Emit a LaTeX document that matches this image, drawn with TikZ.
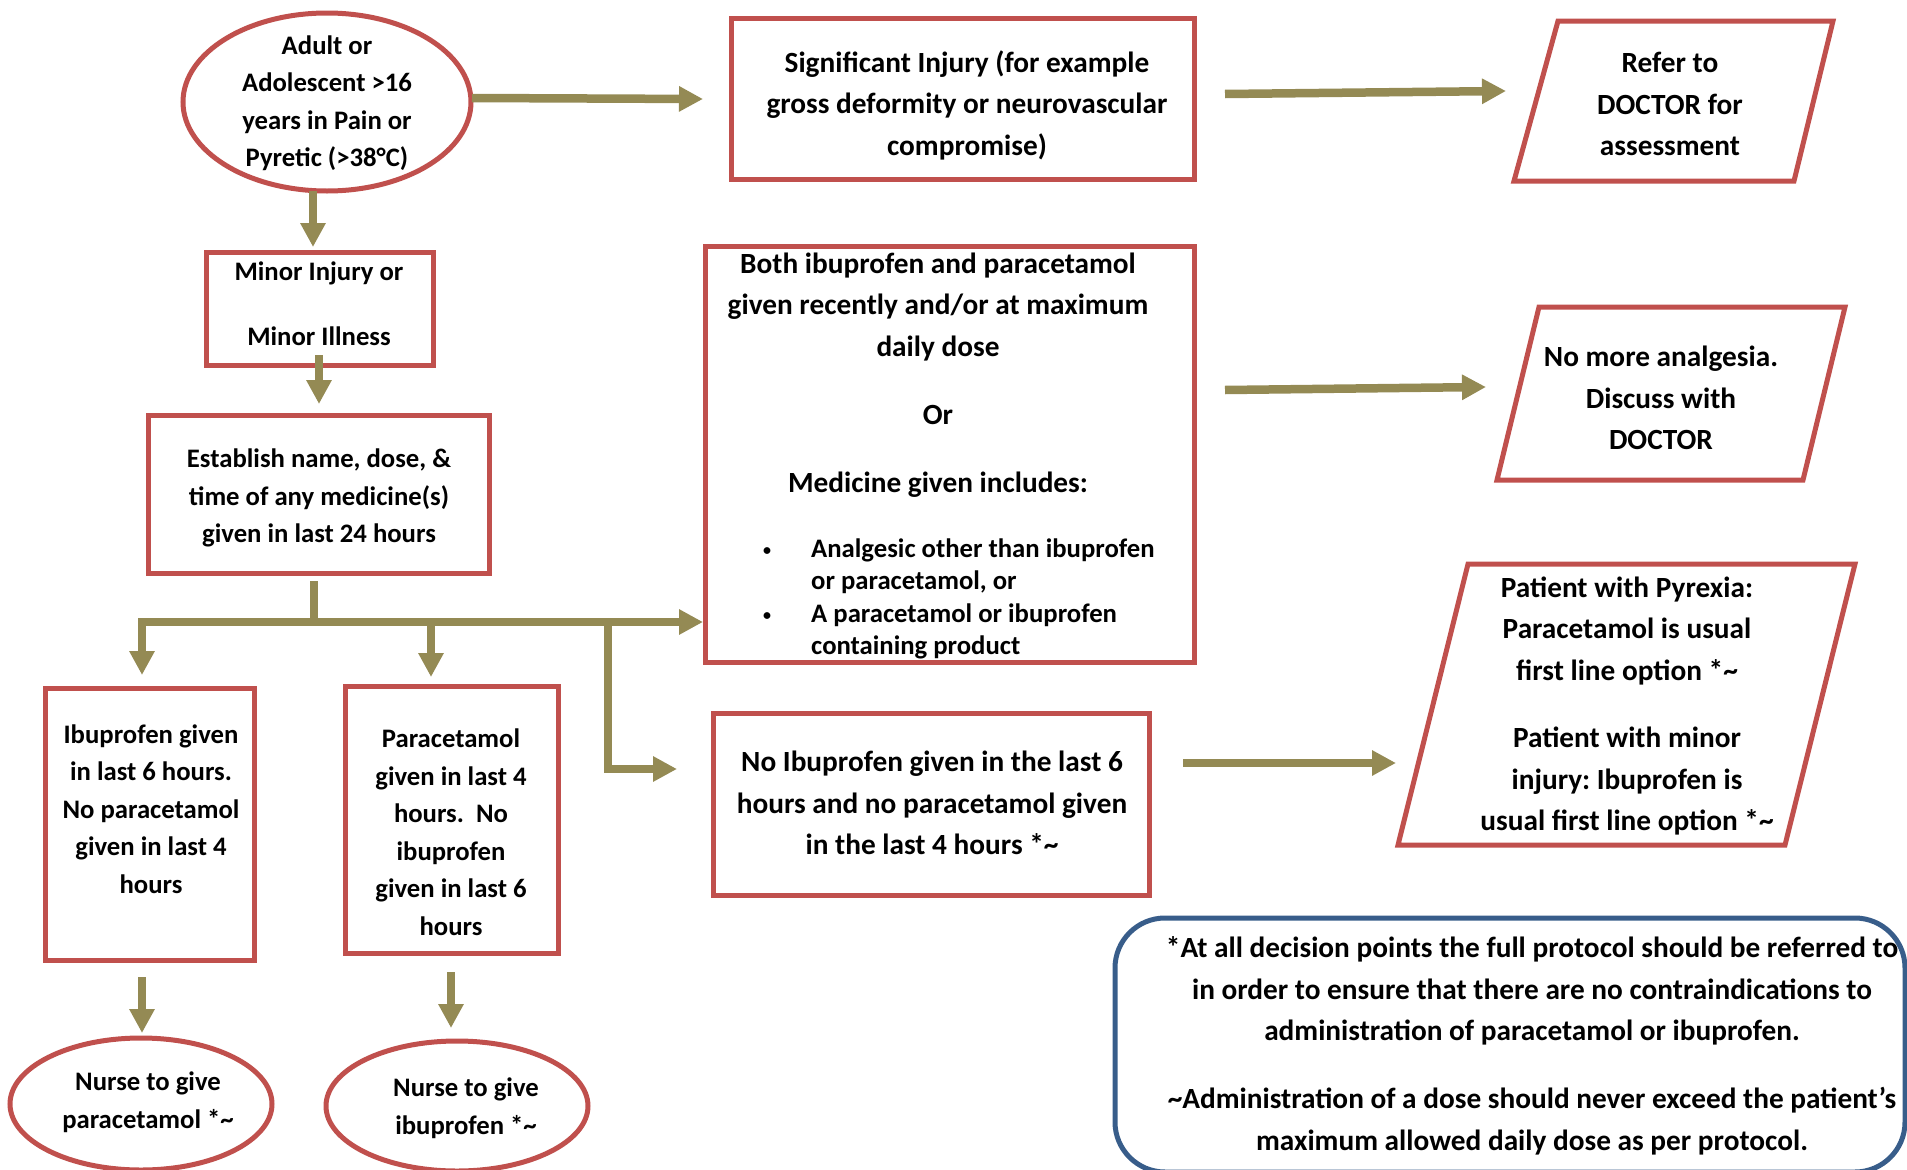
\documentclass[tikz,border=0pt]{standalone}
\usepackage{fontspec}
\setmainfont{Carlito}
\usetikzlibrary{arrows.meta,shapes.geometric}
\definecolor{boxred}{HTML}{C0504D}
\definecolor{arrowolive}{HTML}{948A54}
\definecolor{noteblue}{HTML}{385D8A}
\newcommand{\smallbul}{\makebox[49pt][l]{\hspace*{1pt}\raisebox{2pt}{\fontsize{16}{16}\selectfont •}}}
\begin{document}
\frenchspacing
\begin{tikzpicture}[x=1pt,y=-1pt,
  redbox/.style={draw=boxred, line width=5pt, rectangle, inner sep=0pt},
  redell/.style={draw=boxred, line width=5pt, ellipse, inner sep=0pt},
  redpara/.style={draw=boxred, line width=5pt, line join=miter},
  bigtxt/.style={font=\bfseries\fontsize{29.3}{41.5}\selectfont, align=center, inner sep=0pt},
  smalltxt/.style={font=\bfseries\fontsize{26.7}{37.5}\selectfont, align=center, inner sep=0pt},
  flowline/.style={draw=arrowolive, line width=8.5pt},
  flow/.style={draw=arrowolive, line width=8.5pt, line join=miter, -{Triangle[length=24pt,width=24pt]}},
  notebox/.style={draw=noteblue, line width=5pt, rounded corners=50pt}]
\useasboundingbox (0,0) rectangle (1907,1170);
\clip (0,0) rectangle (1907,1170);

% ---- shapes ----
\node[redell, minimum width=288, minimum height=178] (start) at (327,102) {};
\node[smalltxt] (startt) at (327,103) {Adult or\\Adolescent >16\\years in Pain or\\Pyretic (>38°C)};

\node[redbox, minimum width=463, minimum height=161] (sig) at (962.5,98.5) {};
\node[bigtxt] (sigt) at (967,105) {Significant Injury (for example\\gross deformity or neurovascular\\compromise)};

\coordinate (rf1) at (1558,21); \coordinate (rf2) at (1833,21);
\coordinate (rf3) at (1794,181); \coordinate (rf4) at (1514,181);
\draw[redpara] (rf1) -- (rf2) -- (rf3) -- (rf4) -- cycle;
\node[bigtxt] (refer) at (1670,104) {Refer to\\DOCTOR for\\assessment};

\node[redbox, minimum width=227, minimum height=113] (minor) at (319.5,308.5) {};
\node[smalltxt] (minort) at (319,304) {Minor Injury or\\[27.5pt]Minor Illness};

\node[redbox, minimum width=341, minimum height=158] (est) at (318.5,494) {};
\node[smalltxt] (estt) at (319,498) {Establish name, dose, \&\\time of any medicine(s)\\given in last 24 hours};

\node[redbox, minimum width=489, minimum height=416] (both) at (949.5,454) {};
\node[bigtxt] (botht) at (938,375) {Both ibuprofen and paracetamol\\given recently and/or at maximum\\daily dose\\[26.5pt]Or\\[26.5pt]Medicine given includes:};
\node[bigtxt, align=left, font=\bfseries\fontsize{26.7}{32.3}\selectfont, anchor=west] (bullets) at (762,599)
  {\smallbul Analgesic other than ibuprofen\\\hspace*{49pt}or paracetamol, or\\\smallbul A paracetamol or ibuprofen\\\hspace*{49pt}containing product};

\coordinate (nm1) at (1539,307); \coordinate (nm2) at (1845,307);
\coordinate (nm3) at (1803,480); \coordinate (nm4) at (1497,480);
\draw[redpara] (nm1) -- (nm2) -- (nm3) -- (nm4) -- cycle;
\node[bigtxt] (nomore) at (1661,398) {No more analgesia.\\Discuss with\\DOCTOR};

\node[redbox, minimum width=209, minimum height=272] (ibu) at (149.5,824) {};
\node[smalltxt] (ibut) at (151,809) {Ibuprofen given\\in last 6 hours.\\No paracetamol\\given in last 4\\hours};

\node[redbox, minimum width=213, minimum height=267] (para) at (451.5,819.5) {};
\node[smalltxt] (parat) at (451,832) {Paracetamol\\given in last 4\\hours.\ \ No\\ibuprofen\\given in last 6\\hours};

\node[redbox, minimum width=436, minimum height=182] (noibu) at (931,804) {};
\node[bigtxt] (noibut) at (932,803) {No Ibuprofen given in the last 6\\hours and no paracetamol given\\in the last 4 hours *\textasciitilde};

\coordinate (pt1) at (1468,564); \coordinate (pt2) at (1855,564);
\coordinate (pt3) at (1785,845); \coordinate (pt4) at (1398,845);
\draw[redpara] (pt1) -- (pt2) -- (pt3) -- (pt4) -- cycle;
\node[bigtxt] (patient) at (1627,706) {Patient with Pyrexia:\\Paracetamol is usual\\first line option *\textasciitilde\\[26pt]Patient with minor\\injury: Ibuprofen is\\usual first line option *\textasciitilde};

\node[redell, minimum width=262, minimum height=132] (nurse1) at (141,1104) {};
\node[smalltxt] (nurse1t) at (148,1102) {Nurse to give\\paracetamol *\textasciitilde};

\node[redell, minimum width=262, minimum height=130] (nurse2) at (457,1106) {};
\node[smalltxt] (nurse2t) at (466,1108) {Nurse to give\\ibuprofen *\textasciitilde};

\draw[notebox] (1115,918) rectangle (1905,1172);
\node[bigtxt] (note) at (1532,1046) {*At all decision points the full protocol should be referred to\\in order to ensure that there are no contraindications to\\administration of paracetamol or ibuprofen.\\[26.5pt]\textasciitilde Administration of a dose should never exceed the patient’s\\maximum allowed daily dose as per protocol.};

% ---- connector end points ----
\coordinate (a1s) at (472,98);   \coordinate (a1e) at (703,99);
\coordinate (a2s) at (1225,94);  \coordinate (a2e) at (1506,91);
\coordinate (a3s) at (313,191);  \coordinate (a3e) at (313,247);
\coordinate (a4s) at (319,355);  \coordinate (a4e) at (319,404);
\coordinate (estOut) at (314,581);
\coordinate (jT) at (314,622);
\coordinate (ibuIn) at (142,675);
\coordinate (bothIn) at (703,622);
\coordinate (jP) at (431,622);   \coordinate (paraIn) at (431,677);
\coordinate (jB) at (608,622);   \coordinate (noibuIn) at (677,769);
\coordinate (a6s) at (1225,390); \coordinate (a6e) at (1486,387);
\coordinate (a7s) at (142,977);  \coordinate (a7e) at (142,1033);
\coordinate (a8s) at (451,972);  \coordinate (a8e) at (451,1028);
\coordinate (a9s) at (1183,763); \coordinate (a9e) at (1396,763);

% ---- connectors ----
\draw[flow] (a1s) -- (a1e);
\draw[flow] (a2s) -- (a2e);
\draw[flow] (a3s) -- (a3e);
\draw[flow] (a4s) -- (a4e);
\draw[flowline] (estOut) -- (jT);
\draw[flow] (jT) -| (ibuIn);
\draw[flow] (jT) -- (bothIn);
\draw[flow] (jP) -- (paraIn);
\draw[flow] (jB) |- (noibuIn);
\draw[flow] (a6s) -- (a6e);
\draw[flow] (a7s) -- (a7e);
\draw[flow] (a8s) -- (a8e);
\draw[flow] (a9s) -- (a9e);
\end{tikzpicture}
\end{document}
